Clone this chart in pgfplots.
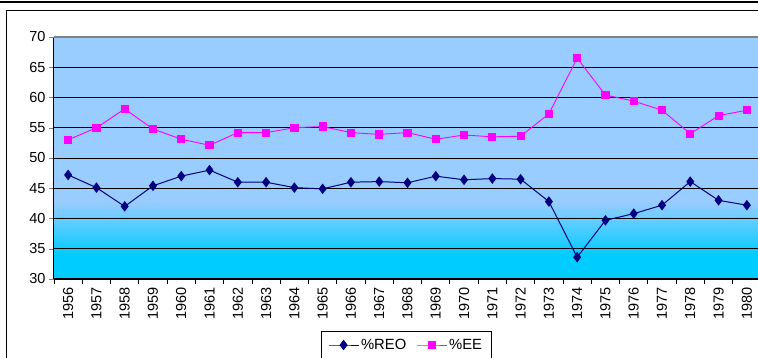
\documentclass[border=0pt]{standalone}
\usepackage{pgfplots}
\pgfplotsset{compat=1.18}
\usepackage{fontspec}
\setmainfont{Liberation Sans}

\definecolor{reo}{RGB}{0,0,128}
\definecolor{ee}{RGB}{255,0,255}
\definecolor{lightbg}{RGB}{153,204,255}
\definecolor{cyanbg}{RGB}{0,204,255}
\pgfdeclareverticalshading{bgshade}{100bp}{color(0bp)=(cyanbg); color(30bp)=(cyanbg); color(41bp)=(lightbg); color(100bp)=(lightbg)}

\begin{document}
\begin{tikzpicture}
\useasboundingbox (0,0) rectangle (758pt,358pt);
\clip (0,0) rectangle (758pt,358pt);
% page frame
\draw[line width=2.3pt] (0,355.8pt) -- (758pt,355.8pt);
\draw[line width=0.8pt] (6.5pt,-2pt) -- (6.5pt,348pt) -- (760pt,348pt);
\begin{axis}[
    at={(54pt,79pt)}, anchor=south west,
    scale only axis,
    width=707pt, height=242pt,
    font=\fontsize{14.5}{16}\selectfont,
    /pgf/number format/assume math mode=true,
    /pgf/number format/1000 sep={},
    axis background/.style={shading=bgshade},
    xmin=1955.5, xmax=1980.5,
    ymin=30, ymax=70,
    axis x line*=bottom, axis y line*=left,
    axis line style={-, black, line width=1pt},
    xtick={1956,...,1980},
    minor xtick={1955.5,1956.5,...,1980.5},
    every major x tick/.append style={draw=none},
    every minor x tick/.append style={black, line width=0.8pt},
    ytick={30,35,...,65},
    extra y ticks={70},
    extra y tick style={grid style={gray, line width=1.2pt}},
    tick align=outside,
    major tick length=5pt, minor tick length=5pt,
    ymajorgrids,
    grid style={black, line width=0.9pt},
    x tick label style={rotate=90, anchor=east},
    legend columns=2,
    legend style={at={(0.498,-0.2136)}, anchor=north, draw=black, line width=0.8pt,
        inner xsep=7pt, inner ysep=6pt, font=\fontsize{14.8}{16}\selectfont,
        /tikz/every even column/.append style={column sep=8pt}},
    legend image code/.code={\draw[mark repeat=2,mark phase=2] plot coordinates {(0pt,0pt)(15pt,0pt)(30pt,0pt)};},
]
\addplot[reo, line width=1pt, mark=diamond*, mark size=4.5pt, mark options={solid, fill=reo}] coordinates {
    (1956,47.2) (1957,45.1) (1958,42.0) (1959,45.4) (1960,47.0) (1961,48.0) (1962,46.0)
    (1963,46.0) (1964,45.1) (1965,44.9) (1966,46.0) (1967,46.1) (1968,45.9) (1969,47.0)
    (1970,46.4) (1971,46.6) (1972,46.5) (1973,42.8) (1974,33.6) (1975,39.7) (1976,40.8)
    (1977,42.2) (1978,46.1) (1979,43.0) (1980,42.2)
};
\addlegendentry{\%REO}
\addplot[ee, line width=0.9pt, mark=square*, mark size=3.6pt, mark options={solid, fill=ee}] coordinates {
    (1956,53.0) (1957,55.0) (1958,58.1) (1959,54.8) (1960,53.1) (1961,52.1) (1962,54.2)
    (1963,54.2) (1964,55.0) (1965,55.2) (1966,54.2) (1967,53.9) (1968,54.2) (1969,53.1)
    (1970,53.8) (1971,53.5) (1972,53.6) (1973,57.3) (1974,66.5) (1975,60.4) (1976,59.4)
    (1977,57.9) (1978,54.0) (1979,57.0) (1980,57.9)
};
\addlegendentry{\%EE}
\end{axis}
\end{tikzpicture}
\end{document}
